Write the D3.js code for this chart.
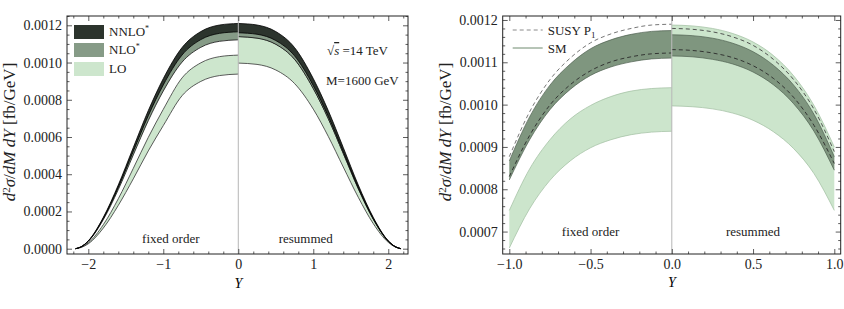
<!DOCTYPE html>
<html>
<head>
<meta charset="UTF-8">
<title>index</title>
<script src="https://d3js.org/d3.v7.min.js"></script>
<style>
	body { margin:0; background:#fff; }
	svg { display:block; font-family:"Liberation Serif","Times New Roman",Times,serif; }
	.tick text { font-size:14px; fill:#222; font-family:"Liberation Serif","Times New Roman",Times,serif; }
	.tick line { stroke:#333; stroke-width:0.8; }
</style>
</head>
<body>
<script>
// ---- left panel: |Y| grid, fixed order is drawn mirrored to Y<0 ----
var absY = [0, 0.25, 0.5, 0.75, 1, 1.2, 1.4, 1.6, 1.8, 2.0, 2.1, 2.17];

var fixNNLOhi = [0.00121, 0.0012015, 0.0011664, 0.0010805, 0.0009136, 0.0007417, 0.0005433, 0.0003424, 0.0001682, 0.0000424, 0.0000097, 0];
var fixNNLOlo = [0.001165, 0.0011568, 0.0011231, 0.0010403, 0.0008796, 0.0007141, 0.0005231, 0.0003297, 0.0001619, 0.0000408, 0.0000093, 0];
var fixNLOhi = [0.00118, 0.0011717, 0.0011375, 0.0010537, 0.0008909, 0.0007233, 0.0005298, 0.0003339, 0.000164, 0.0000413, 0.0000094, 0];
var fixNLOlo = [0.001122, 0.0011141, 0.0010816, 0.001002, 0.0008471, 0.0006878, 0.0005038, 0.0003175, 0.000156, 0.0000393, 0.000009, 0];
var fixLOhi = [0.00104, 0.0010317, 0.0009984, 0.0009173, 0.0007488, 0.000598, 0.0004316, 0.0002683, 0.000129, 0.0000312, 0.0000073, 0];
var fixLOlo = [0.000938, 0.00093, 0.0008986, 0.0008217, 0.0006613, 0.0005253, 0.0003752, 0.0002326, 0.0001107, 0.0000263, 0.0000061, 0];

var resNNLOhi = [0.00121, 0.0012015, 0.0011664, 0.0010805, 0.0009136, 0.0007417, 0.0005433, 0.0003424, 0.0001682, 0.0000424, 0.0000097, 0];
var resNNLOlo = [0.00116, 0.0011519, 0.0011182, 0.0010359, 0.0008758, 0.0007111, 0.0005208, 0.0003283, 0.0001612, 0.0000406, 0.0000093, 0];
var resNLOhi = [0.00117, 0.0011618, 0.0011279, 0.0010448, 0.0008834, 0.0007172, 0.0005253, 0.0003311, 0.0001626, 0.000041, 0.0000094, 0];
var resNLOlo = [0.001139, 0.001131, 0.001098, 0.0010171, 0.00086, 0.0006982, 0.0005114, 0.0003223, 0.0001583, 0.0000399, 0.0000091, 0];
var resLOhi = [0.00114, 0.001132, 0.001099, 0.001018, 0.0008607, 0.0006988, 0.0005119, 0.0003226, 0.0001585, 0.0000399, 0.0000091, 0];
var resLOlo = [0.000997, 0.00099, 0.00096, 0.0008873, 0.0007497, 0.0006032, 0.0004387, 0.0002762, 0.0001346, 0.0000339, 0.0000078, 0];

// ---- right panel ----
var rightYfix = [-1, -0.875, -0.75, -0.625, -0.5, -0.375, -0.25, -0.125, 0];
var susyFixHi = [0.000877, 0.000983, 0.001059, 0.00111, 0.001146, 0.001167, 0.00118, 0.001188, 0.00119];
var smFixHi = [0.000867, 0.000971, 0.001046, 0.001096, 0.001132, 0.001153, 0.001166, 0.001173, 0.001175];
var susyFixLo = [0.00083, 0.000927, 0.000999, 0.001047, 0.00108, 0.001101, 0.001113, 0.00112, 0.001122];
var smFixLo = [0.000822, 0.000917, 0.000988, 0.001036, 0.001069, 0.001089, 0.001101, 0.001108, 0.00111];
var loFixHi = [0.00075, 0.000848, 0.000917, 0.000966, 0.000998, 0.001019, 0.001032, 0.001038, 0.00104];
var loFixLo = [0.000661, 0.000754, 0.000821, 0.000867, 0.000898, 0.000917, 0.000929, 0.000935, 0.000937];

var rightYres = [0, 0.125, 0.25, 0.375, 0.5, 0.625, 0.75, 0.875, 1];
var loResHi = [0.001188, 0.001186, 0.00118, 0.001168, 0.001148, 0.001116, 0.001068, 0.000998, 0.0009];
var susyResHi = [0.00118, 0.001178, 0.001172, 0.00116, 0.00114, 0.001107, 0.001059, 0.000989, 0.000889];
var smResHi = [0.001165, 0.001163, 0.001157, 0.001145, 0.001125, 0.001093, 0.001046, 0.000977, 0.000877];
var susyResLo = [0.00113, 0.001128, 0.001122, 0.001111, 0.001092, 0.001062, 0.001017, 0.000951, 0.000861];
var smResLo = [0.001115, 0.001113, 0.001107, 0.001096, 0.001077, 0.001047, 0.001002, 0.000937, 0.000845];
var loResLo = [0.000997, 0.000995, 0.00099, 0.00098, 0.000963, 0.000936, 0.000896, 0.000837, 0.00075];

// tick labels
var leftXTicks = [-2, -1, 0, 1, 2];
var leftYTicks = [0, 0.0002, 0.0004, 0.0006, 0.0008, 0.001, 0.0012];
var rightXTicks = [-1, -0.5, 0, 0.5, 1];
var rightYTicks = [0.0007, 0.0008, 0.0009, 0.001, 0.0011, 0.0012];
var legendLeft = ["NNLO", "NLO", "LO"];

var cNNLO = "#2c342d", cNLO = "#869b87", cLO = "#cde6cd";
var cDark = "#7f967f", cLight = "#cce5cc";

var svg = d3.select("body").append("svg").attr("width", 844).attr("height", 309);

function pts(xs, lo, hi, sign) {
	var out = xs.map(function(v, i) { return {x: sign * v, lo: lo[i], hi: hi[i]}; });
	out.sort(function(a, b) { return a.x - b.x; });
	return out;
}

function band(g, x, y, data, fill, stroke, sw) {
	var area = d3.area().curve(d3.curveMonotoneX)
		.x(function(d) { return x(d.x); })
		.y0(function(d) { return y(d.lo); })
		.y1(function(d) { return y(d.hi); });
	g.append("path").datum(data).attr("d", area).attr("fill", fill);
	if (stroke) {
		["lo", "hi"].forEach(function(k) {
			var ln = d3.line().curve(d3.curveMonotoneX)
				.x(function(d) { return x(d.x); })
				.y(function(d) { return y(d[k]); });
			g.append("path").datum(data).attr("d", ln).attr("fill", "none")
				.attr("stroke", stroke).attr("stroke-width", sw);
		});
	}
}

function dashed(g, x, y, xs, vs, color) {
	var ln = d3.line().curve(d3.curveMonotoneX)
		.x(function(d, i) { return x(xs[i]); })
		.y(function(d) { return y(d); });
	g.append("path").datum(vs).attr("d", ln).attr("fill", "none")
		.attr("stroke", color).attr("stroke-width", 0.9).attr("stroke-dasharray", "4,3");
}

function frame(g, x, y, w, h, xMaj, xMin, yMaj, yMin, xFmt, yFmt) {
	var axes = [
		g.append("g").attr("transform", "translate(0," + h + ")").call(d3.axisBottom(x).tickValues(xMaj).tickSize(-5).tickPadding(5).tickFormat(xFmt)),
		g.append("g").attr("transform", "translate(0," + h + ")").call(d3.axisBottom(x).tickValues(xMin).tickSize(-2.5).tickFormat("")),
		g.append("g").call(d3.axisTop(x).tickValues(xMaj).tickSize(-5).tickFormat("")),
		g.append("g").call(d3.axisTop(x).tickValues(xMin).tickSize(-2.5).tickFormat("")),
		g.append("g").call(d3.axisLeft(y).tickValues(yMaj).tickSize(-5).tickPadding(5).tickFormat(yFmt)),
		g.append("g").call(d3.axisLeft(y).tickValues(yMin).tickSize(-2.5).tickFormat("")),
		g.append("g").attr("transform", "translate(" + w + ",0)").call(d3.axisRight(y).tickValues(yMaj).tickSize(-5).tickFormat("")),
		g.append("g").attr("transform", "translate(" + w + ",0)").call(d3.axisRight(y).tickValues(yMin).tickSize(-2.5).tickFormat(""))
	];
	axes.forEach(function(a) { a.select(".domain").remove(); a.attr("font-size", null).attr("font-family", null); });
	g.append("rect").attr("width", w).attr("height", h).attr("fill", "none")
		.attr("stroke", "#222").attr("stroke-width", 1);
}

// rotated y title, font sized so the whole label is ~150px long as in the original
function yTitle(x0, y0) {
	var t = svg.append("text").attr("transform", "translate(" + x0 + "," + y0 + ") rotate(-90)")
		.attr("text-anchor", "middle").attr("fill", "#222");
	var sup;
	t.append("tspan").style("font-style", "italic").text("d");
	sup = t.append("tspan").attr("dy", -5).text("2");
	t.append("tspan").attr("dy", 5).style("font-style", "italic").text("σ");
	t.append("tspan").text("/");
	t.append("tspan").style("font-style", "italic").text("dM dY");
	t.append("tspan").text(" [fb/GeV]");
	var fs = 14;
	t.style("font-size", fs + "px"); sup.style("font-size", (fs * 0.65) + "px");
	var len = t.node().getComputedTextLength();
	if (len > 0) {
		fs = Math.max(12, Math.min(17, fs * 150 / len));
		t.style("font-size", fs + "px"); sup.style("font-size", (fs * 0.65) + "px");
	}
}

function label(g, x0, y0, txt, anchor) {
	return g.append("text").attr("x", x0).attr("y", y0).attr("text-anchor", anchor || "middle")
		.style("font-size", "13px").attr("fill", "#222").text(txt);
}

// ---------------- left plot ----------------
function plotLeft() {
	var L = 67, T = 16, w = 341, h = 238;
	var g = svg.append("g").attr("transform", "translate(" + L + "," + T + ")");
	var x = d3.scaleLinear().domain([-2.284, 2.263]).range([0, w]);
	var y = d3.scaleLinear().domain([-0.0000285, 0.00125]).range([h, 0]);

	band(g, x, y, pts(absY, fixLOlo, fixLOhi, -1), cLO, "#333", 0.8);
	band(g, x, y, pts(absY, fixNLOlo, fixNLOhi, -1), cNLO, "#111", 0.8);
	band(g, x, y, pts(absY, fixNNLOlo, fixNNLOhi, -1), cNNLO, "#000", 0.8);
	band(g, x, y, pts(absY, resLOlo, resLOhi, 1), cLO, "#333", 0.8);
	band(g, x, y, pts(absY, resNLOlo, resNLOhi, 1), cNLO, "#111", 0.8);
	band(g, x, y, pts(absY, resNNLOlo, resNNLOhi, 1), cNNLO, "#000", 0.8);

	g.append("line").attr("x1", x(0)).attr("x2", x(0)).attr("y1", 0).attr("y2", h)
		.attr("stroke", "#b5b5b5").attr("stroke-width", 1);

	var xMin = d3.range(-11, 12).map(function(i) { return i * 0.2; }).filter(function(v) { return Math.abs(v - Math.round(v)) > 1e-6; });
	var yMin = d3.range(0, 26).map(function(i) { return i * 0.00005; }).filter(function(v) { return Math.abs(v / 0.0002 - Math.round(v / 0.0002)) > 1e-6; });
	frame(g, x, y, w, h, leftXTicks, xMin, leftYTicks, yMin, d3.format("d"), d3.format(".4f"));

	// legend
	var cols = [cNNLO, cNLO, cLO];
	var ys = [9, 27, 46];
	legendLeft.forEach(function(name, i) {
		g.append("rect").attr("x", 7).attr("y", ys[i]).attr("width", 30).attr("height", 14).attr("fill", cols[i]);
		var t = label(g, 42, ys[i] + 11, name, "start");
		if (i < 2) t.append("tspan").attr("dy", -5).style("font-size", "8px").text("*");
	});

	var s = g.append("text").attr("x", 260).attr("y", 39).style("font-size", "13px").attr("fill", "#222");
	s.append("tspan").text("√");
	s.append("tspan").style("font-style", "italic").style("text-decoration", "overline").text("s");
	s.append("tspan").text(" =14 TeV");
	label(g, 259, 69, "M=1600 GeV", "start");

	label(g, x(-0.9), 227, "fixed order");
	label(g, x(0.9), 227, "resummed");

	svg.append("text").attr("x", L + x(0)).attr("y", 288).attr("text-anchor", "middle")
		.style("font-size", "14px").style("font-style", "italic").text("Y");
	yTitle(15, 132);
}

// ---------------- right plot ----------------
function plotRight() {
	var L = 502.7, T = 16, w = 338, h = 238;
	var g = svg.append("g").attr("transform", "translate(" + L + "," + T + ")");
	var x = d3.scaleLinear().domain([-1.0406, 1.0394]).range([0, w]);
	var y = d3.scaleLinear().domain([0.000647, 0.0012094]).range([h, 0]);

	g.append("clipPath").attr("id", "clipR").append("rect").attr("width", w).attr("height", h);
	var c = g.append("g").attr("clip-path", "url(#clipR)");

	band(c, x, y, pts(rightYfix, loFixLo, loFixHi, 1), cLight, "#9fbd9f", 0.7);
	band(c, x, y, pts(rightYfix, smFixLo, smFixHi, 1), cDark, "#4e5e4f", 0.7);
	dashed(c, x, y, rightYfix, susyFixHi, "#666");
	dashed(c, x, y, rightYfix, susyFixLo, "#2a2a2a");

	band(c, x, y, pts(rightYres, loResLo, loResHi, 1), cLight, "#9fbd9f", 0.7);
	band(c, x, y, pts(rightYres, smResLo, smResHi, 1), cDark, "#4e5e4f", 0.7);
	dashed(c, x, y, rightYres, susyResHi, "#444");
	dashed(c, x, y, rightYres, susyResLo, "#2a2a2a");

	c.append("line").attr("x1", x(0)).attr("x2", x(0)).attr("y1", 0).attr("y2", h)
		.attr("stroke", "#b5b5b5").attr("stroke-width", 1);

	var xMin = d3.range(-10, 11).map(function(i) { return i * 0.1; }).filter(function(v, i) { return (i % 5) !== 0; });
	var yMin = d3.range(33, 61).map(function(i) { return i * 0.00002; }).filter(function(v, i) { return ((i + 33) % 5) !== 0; });
	frame(g, x, y, w, h, rightXTicks, xMin, rightYTicks, yMin, d3.format(".1f"), d3.format(".4f"));

	// legend
	g.append("line").attr("x1", 10).attr("x2", 40).attr("y1", 14).attr("y2", 14)
		.attr("stroke", "#8a8a8a").attr("stroke-width", 1).attr("stroke-dasharray", "4,3");
	var t = label(g, 45, 19, "SUSY P", "start");
	t.append("tspan").attr("dy", 3).style("font-size", "9px").text("1");
	g.append("line").attr("x1", 10).attr("x2", 40).attr("y1", 32).attr("y2", 32)
		.attr("stroke", "#6f8a6f").attr("stroke-width", 1);
	label(g, 45, 37, "SM", "start");

	label(g, x(-0.5), 220, "fixed order");
	label(g, x(0.5), 220, "resummed");

	svg.append("text").attr("x", L + x(0)).attr("y", 287).attr("text-anchor", "middle")
		.style("font-size", "14px").style("font-style", "italic").text("Y");
	yTitle(451, 132);
}

plotLeft();
plotRight();
</script>
</body>
</html>
